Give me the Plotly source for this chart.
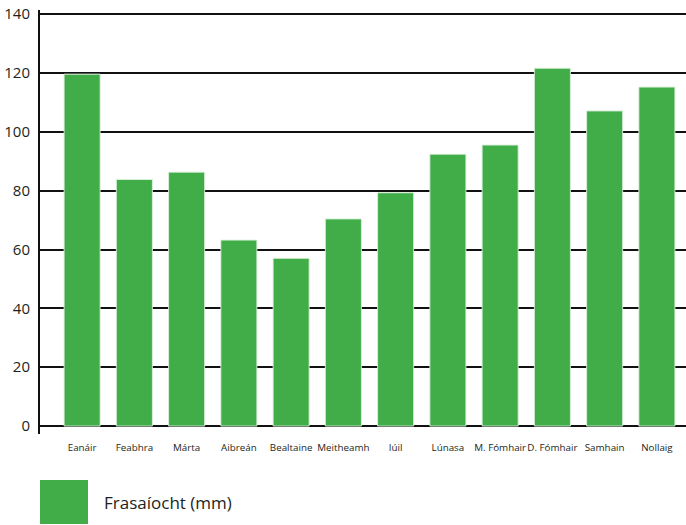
import plotly.graph_objects as go

months = ["Eanáir", "Feabhra", "Márta", "Aibreán", "Bealtaine", "Meitheamh",
          "Iúil", "Lúnasa", "M. Fómhair", "D. Fómhair", "Samhain", "Nollaig"]
rainfall = [119.6, 83.8, 86.3, 63.2, 57.0, 70.4, 79.3, 92.4, 95.5, 121.6, 107.1, 115.2]
series_name = "Frasaíocht (mm)"
y_ticks = [0, 20, 40, 60, 80, 100, 120, 140]

GREEN = "#41ad49"
TEXT = "#231f20"

fig = go.Figure()
fig.add_trace(go.Bar(
    x=months, y=rainfall, name=series_name,
    marker=dict(color=GREEN, line=dict(color="rgba(220,240,220,0.9)", width=1)),
    showlegend=False, hoverinfo="skip",
))

fig.update_layout(
    width=686, height=525,
    margin=dict(l=40, r=0, t=10, b=91),
    paper_bgcolor="white", plot_bgcolor="white",
    bargap=0.31,
    font=dict(family="Open Sans", color=TEXT),
    xaxis=dict(
        type="category",
        range=[-0.806, 11.557],
        showgrid=False, showline=False, zeroline=False,
        ticks="", tickfont=dict(size=9.8, color=TEXT),
        tickangle=0, automargin=False,
        ticklabelstandoff=6,
    ),
    yaxis=dict(
        range=[-2.7, 141.4],
        tickvals=y_ticks, ticktext=[str(v) for v in y_ticks],
        showgrid=True, gridcolor="#111111", gridwidth=2,
        zeroline=False,
        showline=True, linecolor="#111111", linewidth=2,
        ticks="", tickfont=dict(size=15, color=TEXT),
        automargin=False,
        ticklabelstandoff=5,
    ),
)

# Legend swatch and label
fig.add_shape(type="rect", xref="paper", yref="paper",
              x0=-0.0, x1=48 / 646, y0=(525 - 524 - 91) / 424, y1=(525 - 480 - 91) / 424,
              fillcolor=GREEN, line=dict(width=0))
fig.add_annotation(text=series_name, xref="paper", yref="paper",
                   x=62 / 646, y=(525 - 502 - 91) / 424, xanchor="left", yanchor="middle",
                   showarrow=False, font=dict(size=17, color=TEXT, family="Open Sans"))

fig.write_html("out.html", config={"displayModeBar": False},
               post_script="document.body.style.margin='0';document.body.style.overflow='hidden';")
